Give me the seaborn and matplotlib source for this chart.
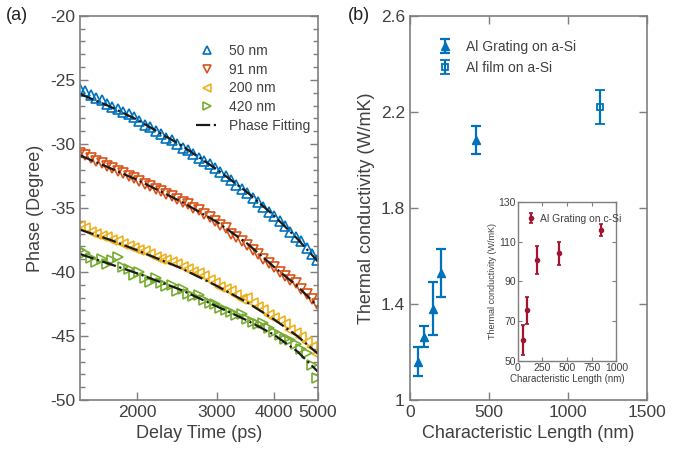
import numpy as np
import pandas as pd
import matplotlib
matplotlib.use("Agg")
import matplotlib.pyplot as plt
import matplotlib.ticker as mticker
from matplotlib.lines import Line2D
import seaborn as sns

# ---- panel (a): phase vs delay time ----
delay_time = [1500, 1542, 1584, 1628, 1673, 1719, 1767, 1816, 1866, 1918,
              1971, 2025, 2081, 2139, 2198, 2259, 2321, 2386, 2452, 2519,
              2589, 2661, 2734, 2810, 2888, 2967, 3049, 3134, 3220, 3309,
              3401, 3495, 3592, 3691, 3793, 3898, 4006, 4117, 4231, 4348,
              4468, 4592, 4719, 4849, 4983]

phase_50 = [-25.7, -25.9, -26.2, -26.4, -26.6, -26.9, -27.1, -27.3, -27.5, -27.7,
            -27.9, -28.2, -28.5, -28.7, -29.0, -29.2, -29.5, -29.7, -30.0, -30.3,
            -30.5, -30.8, -31.1, -31.3, -31.6, -31.9, -32.2, -32.5, -32.8, -33.2,
            -33.5, -33.8, -34.2, -34.5, -34.9, -35.3, -35.6, -36.0, -36.4, -36.9,
            -37.3, -37.6, -38.1, -38.6, -39.1]
phase_91 = [-30.7, -30.9, -31.1, -31.3, -31.5, -31.7, -31.9, -32.1, -32.3, -32.5,
            -32.7, -32.9, -33.1, -33.3, -33.5, -33.7, -33.9, -34.1, -34.3, -34.5,
            -34.7, -35.0, -35.2, -35.5, -35.7, -36.0, -36.3, -36.6, -37.0, -37.3,
            -37.6, -37.9, -38.3, -38.6, -39.0, -39.3, -39.6, -40.0, -40.3, -40.6,
            -40.9, -41.3, -41.7, -42.1, -42.5]
phase_200 = [-36.4, -36.6, -36.9, -37.0, -37.2, -37.3, -37.5, -37.6, -37.8, -38.0,
             -38.1, -38.3, -38.4, -38.6, -38.8, -39.0, -39.1, -39.2, -39.4, -39.6,
             -39.8, -40.0, -40.1, -40.3, -40.6, -40.9, -41.2, -41.3, -41.5, -41.8,
             -42.1, -42.0, -42.4, -42.7, -43.0, -43.4, -43.6, -43.8, -44.1, -44.5,
             -44.8, -45.1, -45.5, -45.9, -46.4]
phase_420 = [-38.3, -38.5, -38.9, -39.2, -39.0, -39.4, -39.1, -38.8, -39.6, -39.8,
             -40.2, -40.0, -40.5, -40.8, -40.5, -40.9, -41.1, -41.0, -41.5, -41.3,
             -41.7, -41.9, -41.8, -42.2, -42.4, -42.5, -42.8, -43.0, -43.1, -43.4,
             -43.3, -43.7, -43.9, -44.1, -44.0, -44.4, -44.7, -44.9, -45.2, -45.3,
             -45.6, -46.0, -46.3, -47.3, -48.3]

fit_time = [1500, 1750, 2000, 2500, 3000, 3500, 4000, 4500, 5000]
fit_50 = [-26.1, -27.1, -28.1, -30.1, -32.0, -33.8, -35.6, -37.4, -39.2]
fit_91 = [-30.9, -31.9, -32.8, -34.5, -36.1, -37.8, -39.6, -41.1, -42.7]
fit_200 = [-36.7, -37.5, -38.3, -39.7, -41.1, -42.4, -43.7, -45.0, -46.4]
fit_420 = [-38.6, -39.4, -40.1, -41.4, -42.7, -43.8, -44.9, -46.2, -47.8]

sample_labels = ["50 nm", "91 nm", "200 nm", "420 nm"]

# ---- panel (b): thermal conductivity ----
grating_len = [50, 91, 150, 200, 420]
grating_k = [1.16, 1.264, 1.38, 1.53, 2.083]
grating_err = [0.06, 0.045, 0.11, 0.10, 0.06]
film_len = [1200]
film_k = [2.22]
film_err = [0.07]

# inset: c-Si
csi_len = [50, 91, 200, 420, 840]
csi_k = [60.4, 75.4, 100.8, 104.1, 116.1]
csi_err = [7.5, 7.0, 7.0, 6.0, 3.0]

colors = ["#0072BD", "#D95319", "#EDB120", "#77AC30"]
markers = ["^", "v", "<", ">"]
dark_red = "#A2142F"
spine_col = "#7f7f7f"
text_col = "#404040"

sns.set_style("ticks")
plt.rcParams["font.family"] = ["Liberation Sans", "DejaVu Sans"]
plt.rcParams["axes.unicode_minus"] = False
plt.rcParams["text.color"] = text_col
plt.rcParams["axes.labelcolor"] = text_col
plt.rcParams["xtick.color"] = spine_col
plt.rcParams["ytick.color"] = spine_col
plt.rcParams["xtick.labelcolor"] = text_col
plt.rcParams["ytick.labelcolor"] = text_col

fig = plt.figure(figsize=(6.84, 4.54), dpi=100)
ax1 = fig.add_axes([0.117, 0.119, 0.348, 0.846])
ax2 = fig.add_axes([0.599, 0.119, 0.347, 0.846])
ax3 = fig.add_axes([0.757, 0.205, 0.144, 0.350])

phase_data = [phase_50, phase_91, phase_200, phase_420]
fit_data = [fit_50, fit_91, fit_200, fit_420]

for lab, ph, c, m in zip(sample_labels, phase_data, colors, markers):
    df = pd.DataFrame({"t": delay_time, "phase": ph})
    sns.lineplot(data=df, x="t", y="phase", ax=ax1, linestyle="", marker=m,
                 markersize=6.5, mfc="none", mec=c, mew=1.2, color=c,
                 estimator=None, sort=False)
for fit in fit_data:
    df = pd.DataFrame({"t": fit_time, "phase": fit})
    sns.lineplot(data=df, x="t", y="phase", ax=ax1, color="#1a1a1a",
                 linestyle="-.", linewidth=1.6, estimator=None, sort=False)

ax1.set_xscale("log")
ax1.set_xlim(1500, 5000)
ax1.set_ylim(-50, -20)
ax1.xaxis.set_major_locator(mticker.FixedLocator([2000, 3000, 4000, 5000]))
ax1.xaxis.set_major_formatter(mticker.FixedFormatter(["2000", "3000", "4000", "5000"]))
ax1.xaxis.set_minor_locator(mticker.NullLocator())
ax1.yaxis.set_major_locator(mticker.MultipleLocator(5))
ax1.yaxis.set_minor_locator(mticker.MultipleLocator(1))
ax1.set_xlabel("Delay Time (ps)", fontsize=13)
ax1.set_ylabel("Phase (Degree)", fontsize=13)
ax1.tick_params(axis="both", which="major", direction="in", length=6, width=1,
                labelsize=12.5, right=True, top=False)
ax1.tick_params(axis="y", which="minor", direction="in", length=3.5, width=1, right=True)

handles = [Line2D([], [], linestyle="", marker=m, mfc="none", mec=c, mew=1.2, markersize=6)
           for m, c in zip(markers, colors)]
handles.append(Line2D([], [], color="#1a1a1a", linestyle="-.", linewidth=1.6))
ax1.legend(handles, sample_labels + ["Phase Fitting"], loc="upper right",
           bbox_to_anchor=(1.02, 0.96), frameon=False, fontsize=10,
           handlelength=1.6, handletextpad=0.8, labelspacing=0.35)

# panel (b)
ax2.errorbar(grating_len, grating_k, yerr=grating_err, fmt="^", color=colors[0],
             markersize=6, capsize=3.5, elinewidth=1.6, capthick=1.6,
             label="Al Grating on a-Si")
ax2.errorbar(film_len, film_k, yerr=film_err, fmt="s", color=colors[0], mfc="none",
             markersize=4, mew=1.3, capsize=3.5, elinewidth=1.6, capthick=1.6,
             label="Al film on a-Si")
sns.scatterplot(x=grating_len, y=grating_k, ax=ax2, marker="^", s=30,
                color=colors[0], edgecolor=colors[0], legend=False, zorder=3)
ax2.set_xlim(0, 1500)
ax2.set_ylim(1, 2.6)
ax2.set_xticks([0, 500, 1000, 1500])
ax2.set_yticks([1, 1.4, 1.8, 2.2, 2.6])
ax2.yaxis.set_major_formatter(mticker.FormatStrFormatter("%g"))
ax2.set_xlabel("Characteristic Length (nm)", fontsize=13)
ax2.set_ylabel("Thermal conductivity (W/mK)", fontsize=13)
ax2.tick_params(axis="both", direction="in", length=6, width=1, labelsize=12.5,
                right=True, top=True)
ax2.legend(loc="upper left", bbox_to_anchor=(0.06, 0.97), frameon=False,
           fontsize=10, handlelength=1.2, handletextpad=0.9, labelspacing=0.5)

# inset
ax3.errorbar(csi_len, csi_k, yerr=csi_err, fmt="o", color=dark_red, markersize=3,
             capsize=1.5, elinewidth=1.6, capthick=1.2, label="Al Grating on c-Si")
ax3.set_xlim(0, 1000)
ax3.set_ylim(50, 130)
ax3.set_xticks([0, 250, 500, 750, 1000])
ax3.set_yticks([50, 70, 90, 110, 130])
ax3.set_xlabel("Characteristic Length (nm)", fontsize=7, labelpad=1)
ax3.set_ylabel("Thermal conductivity (W/mK)", fontsize=6.5, labelpad=1)
ax3.tick_params(axis="both", direction="in", length=3, width=0.8, labelsize=7.5,
                right=True, top=True, pad=1.5)
ax3.legend(loc="upper left", bbox_to_anchor=(0.0, 0.98), frameon=False, fontsize=7.5,
           handlelength=1.0, handletextpad=0.3, borderpad=0.3)

for ax in (ax1, ax2, ax3):
    for sp in ax.spines.values():
        sp.set_color(spine_col)
        sp.set_linewidth(1.2 if ax is not ax3 else 1.0)

fig.text(0.008, 0.955, "(a)", fontsize=13, color="#222222")
fig.text(0.508, 0.955, "(b)", fontsize=13, color="#222222")

fig.savefig("out.png", dpi=100)
